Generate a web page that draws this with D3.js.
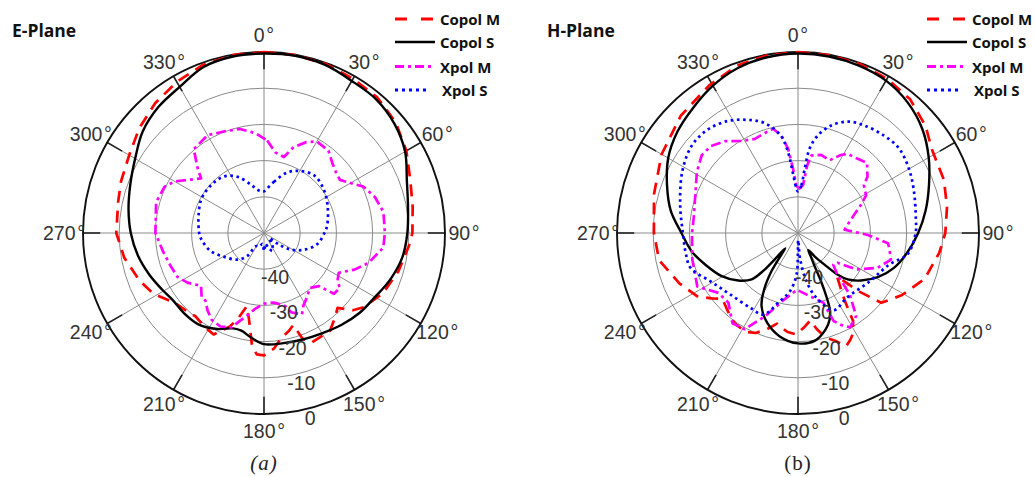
<!DOCTYPE html>
<html><head><meta charset="utf-8">
<script src="https://cdn.jsdelivr.net/npm/d3@7"></script>
<style>body{margin:0;background:#fff}svg{display:block}</style>
</head><body>
<svg id="chart" width="1035" height="477"></svg>
<script>
// ---------- data ----------
const angleTicks = [0,30,60,90,120,150,180,210,240,270,300,330];
const radialTicks = [-40,-30,-20,-10,0];
const radialDomain = [-50,0];
const seriesNames = ["Copol M","Copol S","Xpol M","Xpol S"];

// E-plane  [angle deg, level dB]
const eCopolM = [[0,0],[10,-0.1],[20,-0.3],[30,-0.8],[40,-1.2],[50,-2.5],[60,-4.6],[70,-7.0],[80,-8.3],[90,-9.0],[95,-9.8],[106,-11.4],[117,-13.2],[127,-15.8],[131,-17.5],[135.5,-21.0],[140,-19.5],[146,-17.4],[156.6,-17.0],[160,-19.0],[162.4,-23.3],[166,-22.0],[170.5,-20.7],[175,-18.0],[180,-16.2],[183.4,-16.4],[186,-18.5],[190,-26.0],[193.2,-29.2],[196.7,-25.5],[200,-22.5],[206.4,-18.7],[212,-19.3],[219.5,-20.2],[226,-19.5],[232,-18.7],[241,-15.2],[249,-13.2],[260,-10.8],[270,-9.2],[282,-8.8],[290,-8.0],[300,-7.0],[310,-5.0],[320,-3.2],[330,-1.8],[340,-0.6],[350,-0.1]];
const eCopolS = [[0,-0.4],[10,-0.3],[20,-0.6],[30,-1.5],[40,-1.8],[50,-3.0],[60,-5.0],[70,-8.0],[80,-9.6],[90,-10.4],[100,-11.2],[110,-12.8],[120,-14.6],[130,-15.6],[140,-16.8],[150,-18.0],[160,-18.7],[170,-19.1],[180,-19.3],[187,-20.9],[193,-22.3],[198,-22.3],[206,-20.5],[216,-18.9],[225,-18.7],[234,-18.7],[241,-17.8],[250,-16.3],[260,-14.6],[270,-13.2],[280,-12.0],[290,-10.7],[300,-8.9],[310,-6.3],[320,-4.6],[330,-3.4],[340,-1.2],[350,-0.5]];
const eXpolM = [[2,-24.4],[8,-27.5],[14.7,-28.3],[19,-24.9],[25,-22.3],[30,-20.8],[38,-21.1],[44,-22.9],[50,-24.0],[55,-24.4],[60,-22.4],[65,-19.7],[72,-17.8],[80,-16.5],[90,-16.6],[97,-16.8],[106,-20.0],[112,-23.0],[118,-26.6],[123,-25.8],[126,-24.1],[131,-24.4],[134,-28.9],[140,-30.2],[148.6,-28.0],[151,-27.4],[155,-25.2],[161,-26.8],[164,-29.1],[172,-30.6],[180,-30.5],[187,-28.8],[192,-26.5],[195,-25.0],[199,-22.4],[205,-21.5],[211,-22.0],[216,-23.5],[221,-25.3],[224,-25.2],[230,-27.3],[237,-24.8],[243,-23.2],[251,-22.6],[260,-21.6],[270,-20.0],[286,-19.0],[295,-19.7],[300,-21.5],[311,-27.0],[314,-24.6],[320,-19.8],[330,-18.8],[339,-19.9],[347,-20.5],[355,-22.3]];
const eXpolS = [[0,-38.5],[11,-35.6],[21,-32.1],[30,-30.2],[41,-28.9],[53,-29.5],[66,-30.8],[83,-32.4],[90,-33.3],[102,-35.0],[113,-38.1],[122,-41.4],[128,-45.0],[135,-48.0],[145,-46.0],[155,-44.5],[165,-46.0],[172,-47.0],[180,-45.0],[188,-47.0],[200,-46.0],[212,-45.7],[216,-42.1],[225,-39.6],[239,-37.2],[251,-34.5],[262,-32.9],[270,-32.1],[297,-30.4],[312,-30.3],[325,-30.9],[335,-32.9],[345,-36.2],[352,-38.0],[358,-38.6]];

// H-plane
const hCopolM = [[0,0],[10,-0.1],[20,-0.3],[30,-0.8],[40,-1.8],[50,-4.0],[58,-6.4],[70,-7.1],[80,-8.2],[90,-9.3],[98,-10.6],[110,-12.8],[121,-16.6],[130,-20.0],[134,-27.0],[138,-33.9],[142,-31.0],[145,-27.8],[148,-21.3],[151,-18.5],[154,-17.1],[157,-16.0],[161,-18.5],[165,-20.0],[169,-23.0],[172,-25.6],[176,-24.0],[181,-22.0],[186,-22.5],[190,-23.5],[193,-24.3],[198,-22.0],[203,-20.0],[208,-19.1],[215,-19.5],[222,-21.0],[229,-22.3],[233,-20.0],[238,-17.1],[247,-14.4],[259,-10.9],[270,-10.2],[285,-8.8],[300,-6.5],[315,-4.2],[329,-2.4],[340,-0.8],[350,-0.2]];
const hCopolS = [[0,-0.4],[10,-0.5],[20,-0.8],[30,-1.4],[40,-2.9],[50,-5.2],[60,-8.3],[70,-11.5],[80,-14.2],[90,-16.8],[100,-19.3],[110,-21.8],[119,-24.8],[127,-28.2],[133,-31.2],[136.5,-34.2],[140,-38.6],[144.5,-42.1],[149,-44.5],[151.5,-42.5],[153.4,-39.8],[154.5,-35.3],[156,-30.5],[157.5,-27.0],[160,-24.5],[164,-22.3],[171,-19.9],[180,-19.5],[190,-21.0],[199,-23.8],[206.6,-27.5],[211,-31.9],[214.8,-37.2],[217.6,-42.5],[220,-44.5],[221.5,-40.0],[222.5,-36.0],[225,-31.9],[231.5,-28.9],[240.5,-25.8],[251.3,-22.9],[260.2,-20.2],[270,-17.8],[280,-14.3],[290,-11.5],[300,-8.6],[310,-6.5],[320,-4.9],[330,-3.0],[340,-1.5],[350,-0.7]];
const hXpolM = [[2,-37.7],[6,-36.7],[7.8,-31.1],[9.7,-28.3],[16.5,-27.5],[23.5,-28.1],[28.8,-25.4],[32,-24.2],[38.8,-23.7],[44.5,-22.8],[51,-25.3],[54,-27.5],[61,-28.5],[66,-31.0],[72,-33.7],[80,-36.0],[86,-37.1],[91.6,-30.7],[96.5,-25.0],[99,-24.5],[106,-23.3],[113.6,-26.0],[122,-31.0],[127,-36.3],[132,-36.9],[136,-34.6],[140,-27.7],[145,-22.0],[151,-20.2],[155,-22.0],[158,-23.8],[160,-29.5],[172,-32.8],[181,-34.3],[192,-31.1],[201.5,-25.3],[209,-19.6],[216,-19.2],[220,-21.0],[225,-22.8],[233,-22.5],[242,-18.5],[256,-19.9],[270,-20.7],[278,-20.9],[290,-19.8],[301,-17.4],[309,-15.8],[315,-16.0],[321.5,-17.6],[328.5,-20.2],[335.4,-21.4],[341.7,-20.9],[346.6,-20.4],[350.3,-22.7],[353.3,-26.6],[355.6,-32.2],[358,-37.0]];
const hXpolS = [[0,-38.5],[4,-36.8],[6,-32.1],[7.8,-26.5],[11.5,-22.5],[17,-19.0],[24,-16.3],[31.7,-15.1],[41.5,-14.1],[50,-13.6],[60,-14.6],[70.5,-16.0],[83,-17.2],[90,-17.5],[101,-19.2],[109,-23.3],[124,-26.1],[143,-27.6],[155,-26.5],[164,-31.3],[170,-36.4],[175.5,-43.0],[178,-48.0],[182,-38.5],[188,-33.7],[195,-30.5],[203,-25.5],[212,-25.5],[228,-24.7],[241,-22.4],[252,-18.8],[260,-18.5],[270,-18.2],[283,-16.6],[298,-13.8],[309.5,-12.0],[319,-12.1],[328,-13.5],[336,-15.8],[343,-18.2],[350,-22.7],[353,-27.5],[355,-33.1],[358,-37.7]];

// ---------- layout & style ----------
const W = 1035, H = 477, R = 181;
const panels = [
  {title:"E-Plane", caption:"(a)", italic:true, cx:264, cy:233, titleX:12, legX:395,
   data:[eCopolM,eCopolS,eXpolM,eXpolS]},
  {title:"H-Plane", caption:"(b)", italic:false, cx:798, cy:233, titleX:547, legX:927,
   data:[hCopolM,hCopolS,hXpolM,hXpolS]}
];
const styles = [
  {stroke:"#ff0000", width:2.7, dash:"12,8", legDash:"12,14", curve:d3.curveLinearClosed},
  {stroke:"#000000", width:2.4, dash:null, legDash:null, curve:d3.curveCatmullRomClosed.alpha(0.5)},
  {stroke:"#ff00ff", width:2.7, dash:"10,4,3,4", legDash:"9,4,3,4", curve:d3.curveLinearClosed},
  {stroke:"#0000ff", width:2.7, dash:"2.6,3.6", legDash:"3,4", curve:d3.curveCatmullRomClosed.alpha(0.5)}
];
const drawOrder = [0,1,2,3];
const legendRowsY = [19, 42, 66.5, 90];

const svg = d3.select("#chart");
svg.append("rect").attr("width",W).attr("height",H).attr("fill","#fff");

const r = d3.scaleLinear().domain(radialDomain).range([0,R]).clamp(true);
const toRad = d => d*Math.PI/180;
const labelFont = "'Liberation Sans', Arial, Helvetica, sans-serif";

panels.forEach(p => {
  const g = svg.append("g").attr("transform",`translate(${p.cx},${p.cy})`);
  // rings
  g.selectAll("circle.ring").data(radialTicks.slice(0,-1)).join("circle")
    .attr("r", d=>r(d)).attr("fill","none").attr("stroke","#8a8a8a").attr("stroke-width",1);
  // spokes
  g.selectAll("line.spoke").data(angleTicks).join("line")
    .attr("x1",0).attr("y1",0)
    .attr("x2",d=>R*Math.sin(toRad(d))).attr("y2",d=>-R*Math.cos(toRad(d)))
    .attr("stroke","#8a8a8a").attr("stroke-width",1);
  // tick marks near the outer circle
  g.selectAll("line.tk").data(angleTicks).join("line")
    .attr("x1",d=>0.905*R*Math.sin(toRad(d))).attr("y1",d=>-0.905*R*Math.cos(toRad(d)))
    .attr("x2",d=>R*Math.sin(toRad(d))).attr("y2",d=>-R*Math.cos(toRad(d)))
    .attr("stroke","#222").attr("stroke-width",1.6);
  // outer circle
  g.append("circle").attr("r",r(0)).attr("fill","none").attr("stroke","#111").attr("stroke-width",1.9);

  // data curves
  drawOrder.forEach(i => {
    const st = styles[i];
    const line = d3.lineRadial()
      .angle(d=>toRad(d[0]))
      .radius(d=>r(d[1]))
      .curve(st.curve);
    g.append("path").datum(p.data[i])
      .attr("d", line)
      .attr("fill","none")
      .attr("stroke", st.stroke)
      .attr("stroke-width", st.width)
      .attr("stroke-dasharray", st.dash)
      .attr("stroke-linejoin","round");
  });

  // angle labels
  g.selectAll("text.ang").data(angleTicks).join("text")
    .attr("x",d=>200*Math.sin(toRad(d))).attr("y",d=>-198*Math.cos(toRad(d)))
    .attr("text-anchor","middle").attr("dominant-baseline","central")
    .attr("font-family",labelFont).attr("font-size",19.5).attr("fill","#333")
    .text(d=>`${d}\u200A\u00B0`);
  // radial labels
  const la = toRad(166);
  g.selectAll("text.rad").data(radialTicks).join("text")
    .attr("x",d=>(r(d)+9.5)*Math.sin(la)).attr("y",d=>-(r(d)+9.5)*Math.cos(la))
    .attr("text-anchor","middle").attr("dominant-baseline","central")
    .attr("font-family",labelFont).attr("font-size",19.5).attr("fill","#333")
    .text(d=>d);

  // title
  svg.append("text").attr("x",p.titleX).attr("y",37)
    .attr("font-family","'Open Sans', sans-serif").attr("font-weight",700).attr("font-size",17.5)
    .attr("fill","#111").text(p.title);
  // caption
  svg.append("text").attr("x",p.cx).attr("y",470).attr("text-anchor","middle")
    .attr("font-family","'Liberation Serif', 'Times New Roman', serif")
    .attr("font-style",p.italic?"italic":"normal").attr("font-size",21)
    .attr("letter-spacing",1).attr("fill","#222")
    .text(p.caption);

  // legend
  const lg = svg.append("g");
  seriesNames.forEach((name,i) => {
    const st = styles[i];
    const y = legendRowsY[i];
    lg.append("line").attr("x1",p.legX).attr("x2",p.legX + (i===3?35:40))
      .attr("y1",y).attr("y2",y)
      .attr("stroke",st.stroke).attr("stroke-width",st.width+0.3)
      .attr("stroke-dasharray",st.legDash);
    lg.append("text").attr("x",p.legX + (i===3?47:45)).attr("y",y)
      .attr("dominant-baseline","central")
      .attr("font-family","'Open Sans', sans-serif").attr("font-weight",700).attr("font-size",15)
      .attr("fill","#111").text(name);
  });
});
</script>
</body></html>
